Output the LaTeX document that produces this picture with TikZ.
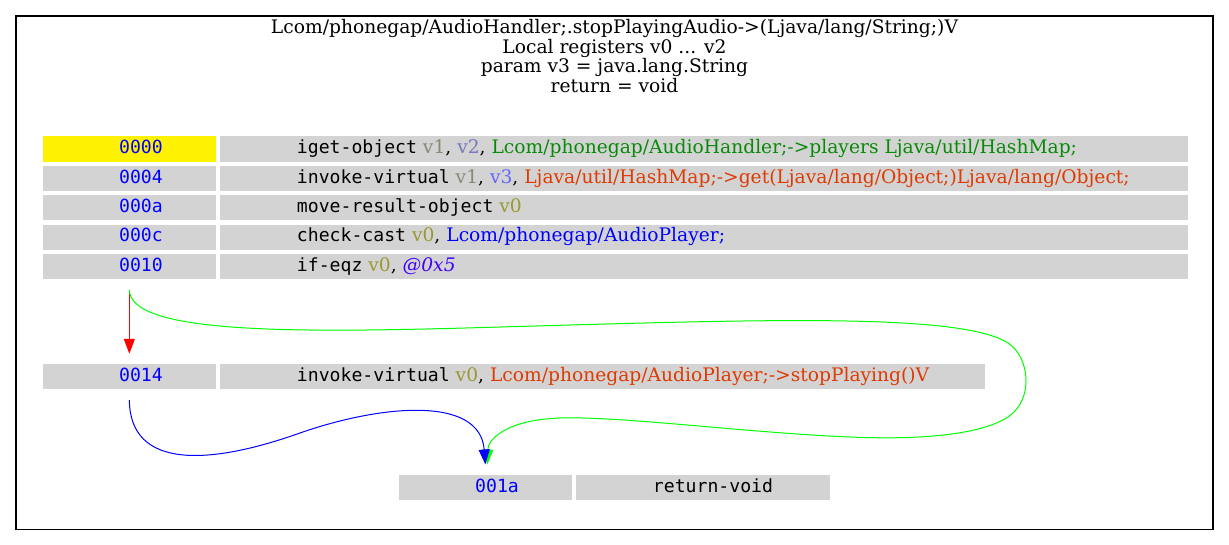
\documentclass[tikz,border=0pt]{standalone}
\usepackage{fontspec}
\setmainfont{DejaVu Serif}
\newfontfamily\monofont{DejaVu Sans Mono}
\usetikzlibrary{fit,arrows.meta}
\definecolor{cellgray}{HTML}{D3D3D3}
\definecolor{regA}{HTML}{999933}
\definecolor{regB}{HTML}{888877}
\definecolor{regC}{HTML}{7777BB}
\definecolor{regD}{HTML}{6666FF}
\definecolor{fieldc}{HTML}{088A08}
\definecolor{methodc}{HTML}{DF3A01}
\definecolor{typec}{HTML}{0000FF}
\definecolor{offc}{HTML}{4000FF}
\newcommand\mn[1]{{\monofont\fontsize{13.6}{16}\selectfont #1}}
\begin{document}
\begin{tikzpicture}[x=0.75pt, y=-0.75pt,
  font=\fontsize{14}{16}\selectfont,
  cell/.style={fill=cellgray, draw=none, inner sep=0pt},
  ycell/.style={fill=yellow, draw=none, inner sep=0pt},
  addr/.style={anchor=base, inner sep=0pt, text=blue, font=\monofont\fontsize{13.6}{16}\selectfont},
  code/.style={anchor=base west, inner sep=0pt},
  ttl/.style={anchor=base, inner sep=0pt},
  blk/.style={draw=none, inner xsep=0pt, inner ysep=7.5pt},
  frm/.style={draw=black, line width=0.8pt, inner sep=0pt},
  edge/.style={line width=0.75pt, -{Triangle[length=11.25pt, width=8.25pt]}}
]
\useasboundingbox (0,0) rectangle (1229,545);
\node[frm, fit={(16,16) (1213,529.5)}] (frame) {};

% title
\node[ttl] (t1) at (614.5,34) {Lcom/phonegap/AudioHandler;.stopPlayingAudio->(Ljava/lang/String;)V};
\node[ttl] (t2) at (614.5,53.5) {Local registers v0 ... v2};
\node[ttl] (t3) at (614.5,73) {param v3 = java.lang.String};
\node[ttl] (t4) at (614.5,92.5) {return = void};

% block 1
\node[ycell, fit={(42.7,136.5) (216,161.7)}] (a00) {};
\node[cell, fit={(220.2,136.5) (1187.7,161.7)}] (b00) {};
\node[cell, fit={(42.7,165.9) (216,191.1)}] (a04) {};
\node[cell, fit={(220.2,165.9) (1187.7,191.1)}] (b04) {};
\node[cell, fit={(42.7,195.3) (216,220.5)}] (a0a) {};
\node[cell, fit={(220.2,195.3) (1187.7,220.5)}] (b0a) {};
\node[cell, fit={(42.7,224.7) (216,249.9)}] (a0c) {};
\node[cell, fit={(220.2,224.7) (1187.7,249.9)}] (b0c) {};
\node[cell, fit={(42.7,254.1) (216,279.3)}] (a10) {};
\node[cell, fit={(220.2,254.1) (1187.7,279.3)}] (b10) {};

\node[addr] (l00) at (141,153.8) {0000};
\node[addr] (l04) at (141,183.2) {0004};
\node[addr] (l0a) at (141,212.6) {000a};
\node[addr] (l0c) at (141,242.0) {000c};
\node[addr] (l10) at (141,271.4) {0010};

\node[code] (c00) at (296.7,153.8) {\mn{iget-object} {\color{regB}v1}, {\color{regC}v2}, {\color{fieldc}Lcom/phonegap/AudioHandler;->players Ljava/util/HashMap;}};
\node[code] (c04) at (296.7,183.2) {\mn{invoke-virtual} {\color{regB}v1}, {\color{regD}v3}, {\color{methodc}Ljava/util/HashMap;->get(Ljava/lang/Object;)Ljava/lang/Object;}};
\node[code] (c0a) at (296.7,212.6) {\mn{move-result-object} {\color{regA}v0}};
\node[code] (c0c) at (296.7,242.0) {\mn{check-cast} {\color{regA}v0}, {\color{typec}Lcom/phonegap/AudioPlayer;}};
\node[code] (c10) at (296.7,271.4) {\mn{if-eqz} {\color{regA}v0}, {\color{offc}\itshape @0x5}};

\node[blk, fit=(a00)(b10)] (blk1) {};

% block 2
\node[cell, fit={(42.7,364.3) (216,389.5)}] (a14) {};
\node[cell, fit={(220.2,364.3) (985.3,389.5)}] (b14) {};
\node[addr] (l14) at (141,381.6) {0014};
\node[code] (c14) at (296.7,381.6) {\mn{invoke-virtual} {\color{regA}v0}, {\color{methodc}Lcom/phonegap/AudioPlayer;->stopPlaying()V}};
\node[blk, fit=(a14)(b14)] (blk2) {};

% block 3
\node[cell, fit={(398.7,475) (572,500.3)}] (a1a) {};
\node[cell, fit={(576.2,475) (830.3,500.3)}] (b1a) {};
\node[addr] (l1a) at (497,492.3) {001a};
\node[anchor=base, inner sep=0pt] (c1a) at (713,492.3) {\mn{return-void}};
\node[blk, fit=(a1a)(b1a)] (blk3) {};

% edges
\draw[edge, red] (blk1.south -| a10) -- (blk2.north -| a14);
\draw[edge, green] (blk1.south -| a10)
  .. controls (130,335) and (300,333) .. (500,327)
  .. controls (750,320) and (960,312) .. (1008,343)
  .. controls (1030,357) and (1034,400) .. (1008,417)
  .. controls (980,435) and (920,440) .. (850,437)
  .. controls (750,433) and (620,416) .. (560,418)
  .. controls (505,420) and (488,440) .. ([xshift=1.5pt]blk3.north -| a1a);
\draw[edge, blue] (blk2.south -| a14)
  .. controls (130,470) and (210,465) .. (300,433)
  .. controls (380,405) and (480,395) .. (blk3.north -| a1a);
\end{tikzpicture}
\end{document}
